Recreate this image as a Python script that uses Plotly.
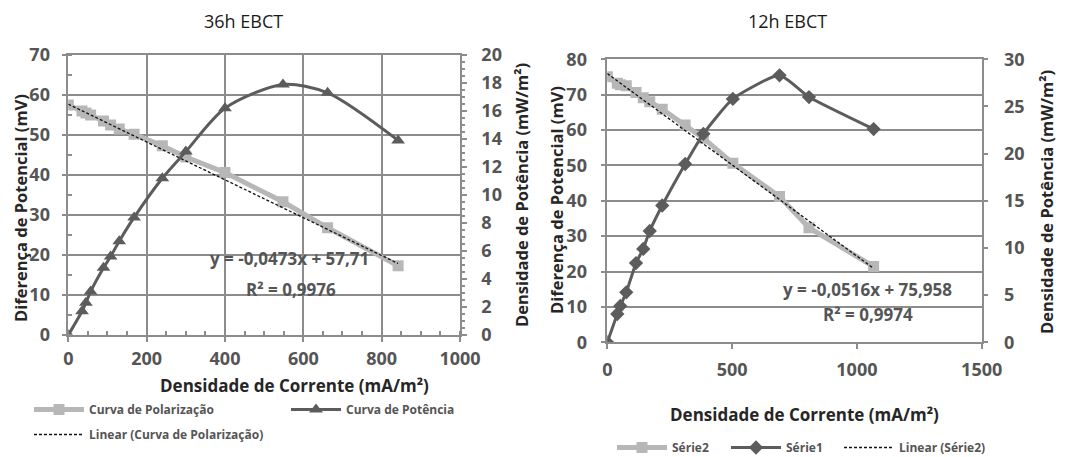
import plotly.graph_objects as go

# ---------------- data: 36h EBCT ----------------
current_36h = [0, 35, 45, 57, 90, 108, 130, 168, 240, 300, 400, 548, 662, 842]
potential_36h = [57.5, 56.0, 55.5, 55.0, 53.5, 52.5, 51.5, 50.2, 47.3, 44.5, 40.6, 33.3, 26.8, 17.3]
power_36h = [0, 1.7, 2.3, 3.1, 4.8, 5.6, 6.7, 8.4, 11.2, 13.1, 16.2, 17.9, 17.3, 13.9]
trend_36h = (-0.0473, 57.71)
r2_36h = "0,9976"

# ---------------- data: 12h EBCT ----------------
current_12h = [0, 40, 52, 76, 115, 144, 170, 220, 312, 385, 503, 690, 808, 1067]
potential_12h = [75.1, 73.2, 72.8, 72.5, 70.6, 69.1, 68.0, 65.9, 61.4, 57.7, 50.6, 41.2, 32.4, 21.4]
power_12h = [0, 3.0, 3.85, 5.3, 8.4, 9.9, 11.8, 14.5, 18.9, 22.1, 25.8, 28.3, 26.0, 22.6]
trend_12h = (-0.0516, 75.958)
r2_12h = "0,9974"

titles = ["36h EBCT", "12h EBCT"]
x_title = "Densidade de Corrente (mA/m²)"
y_title = "Diferença de Potencial (mV)"
y2_title = "Densidade de Potência (mW/m²)"

W, H = 1072, 457
FONT = "Open Sans"
GRID = "#8c8c8c"
LIGHT = "#b7b7b7"
DARK = "#5c5c5c"
TXT = "#555555"
DASH = "3px,2px"

def px(x):
    return x / W

def py(y):
    return 1 - y / H

fig = go.Figure()

# ---- left chart traces ----
fig.add_trace(go.Scatter(
    x=current_36h, y=potential_36h, name="Curva de Polarização",
    mode="lines+markers", line=dict(color=LIGHT, width=5),
    marker=dict(symbol="square", size=11, color=LIGHT),
    xaxis="x", yaxis="y", legend="legend"))
fig.add_trace(go.Scatter(
    x=current_36h, y=power_36h, name="Curva de Potência",
    mode="lines+markers", line=dict(color=DARK, width=3, shape="spline", smoothing=0.8),
    marker=dict(symbol="triangle-up", size=12, color=DARK),
    xaxis="x", yaxis="y2", legend="legend4"))
tx = [current_36h[0], current_36h[-1]]
fig.add_trace(go.Scatter(
    x=tx, y=[trend_36h[0] * v + trend_36h[1] for v in tx],
    name="Linear (Curva de Polarização)", mode="lines",
    line=dict(color="#111111", width=1.3, dash=DASH),
    xaxis="x", yaxis="y", legend="legend3"))

# ---- right chart traces ----
fig.add_trace(go.Scatter(
    x=current_12h, y=potential_12h, name="Série2",
    mode="lines+markers", line=dict(color=LIGHT, width=5),
    marker=dict(symbol="square", size=11, color=LIGHT),
    xaxis="x2", yaxis="y3", legend="legend2"))
fig.add_trace(go.Scatter(
    x=current_12h, y=power_12h, name="Série1",
    mode="lines+markers", line=dict(color=DARK, width=3, shape="spline", smoothing=0.5),
    marker=dict(symbol="diamond", size=11, color=DARK),
    xaxis="x2", yaxis="y4", legend="legend5"))
tx2 = [current_12h[0], current_12h[-1]]
fig.add_trace(go.Scatter(
    x=tx2, y=[trend_12h[0] * v + trend_12h[1] for v in tx2],
    name="Linear (Série2)", mode="lines",
    line=dict(color="#111111", width=1.3, dash=DASH),
    xaxis="x2", yaxis="y3", legend="legend6"))

tickfont = dict(family=FONT, size=18, color=TXT, weight="bold")
common = dict(tickfont=tickfont, zeroline=False, linecolor=GRID, linewidth=1.5,
              gridcolor=GRID, gridwidth=1.5, tickcolor=GRID, tickwidth=1.5, ticklen=5,
              ticks="outside", fixedrange=True)

L = [px(68.3), px(460)]
R = [px(607.3), px(981.7)]
legfont = dict(family=FONT, size=12, color=TXT, weight="bold")

def leg(text_x, text_y):
    return dict(orientation="h", x=px(text_x - 61), y=py(text_y - 14), xanchor="left", yanchor="top",
                itemwidth=50, font=legfont, bgcolor="rgba(0,0,0,0)")

fig.update_layout(
    width=W, height=H, autosize=False,
    margin=dict(l=0, r=0, t=0, b=0, pad=0, autoexpand=False),
    paper_bgcolor="white", plot_bgcolor="white",
    font=dict(family=FONT, color=TXT),
    xaxis=dict(domain=L, range=[0, 1000], dtick=200, showgrid=True, showline=True, mirror=True,
               anchor="y", ticklabelstandoff=2,
               minor=dict(dtick=50, ticks="inside", ticklen=4, tickcolor=GRID, showgrid=False),
               **common),
    yaxis=dict(domain=[py(335), py(55)], range=[0, 70], dtick=10, showgrid=True, showline=True,
               anchor="x", ticklabelstandoff=8,
               minor=dict(dtick=5, ticks="inside", ticklen=4, tickcolor=GRID, showgrid=False),
               **common),
    yaxis2=dict(overlaying="y", side="right", range=[0, 20], dtick=2, showgrid=False, showline=True,
                anchor="x", ticklabelstandoff=11,
                minor=dict(dtick=0.5, ticks="outside", ticklen=3, tickcolor=GRID),
                **common),
    xaxis2=dict(domain=R, range=[0, 1500], dtick=500, showgrid=False, showline=True, mirror=True,
                anchor="y3", ticklabelstandoff=5, **common),
    yaxis3=dict(domain=[py(342.3), py(59.3)], range=[0, 80], dtick=10, showgrid=True, showline=True,
                anchor="x2", ticklabelstandoff=10, **common),
    yaxis4=dict(overlaying="y3", side="right", range=[0, 30], dtick=5, showgrid=False, showline=True,
                anchor="x2", ticklabelstandoff=12, **common),
    legend=leg(90, 409),
    legend4=leg(347, 409),
    legend3=leg(90, 434),
    legend2=leg(673, 447),
    legend5=leg(787, 447),
    legend6=leg(900, 447),
    showlegend=True,
)

ann = []
def add(text, x, y, size, angle=0, bold=True, color="#262626"):
    ann.append(dict(text=text, x=px(x), y=py(y), xref="paper", yref="paper", showarrow=False,
                    textangle=angle, xanchor="center", yanchor="middle",
                    font=dict(family=FONT, size=size, color=color, weight="bold" if bold else "normal")))

add(titles[0], 243, 21, 18, bold=False, color="#1a1a1a")
add(titles[1], 787, 21, 18, bold=False, color="#1a1a1a")
add(x_title, 294, 385, 17)
add(x_title, 804, 414, 17)
add(y_title, 20, 208, 16.5, angle=-90)
add(y2_title, 521, 195, 16.5, angle=-90)
add(y_title, 556, 200, 16.5, angle=-90)
add(y2_title, 1046, 202, 16.5, angle=-90)
add(f"y = {trend_36h[0]:.4f}x + {trend_36h[1]:.2f}".replace(".", ","), 289, 258, 17, color=TXT)
add(f"R² = {r2_36h}", 291, 289, 17, color=TXT)
add(f"y = {trend_12h[0]:.4f}x + {trend_12h[1]:.3f}".replace(".", ","), 867, 289, 17, color=TXT)
add(f"R² = {r2_12h}", 868, 314, 17, color=TXT)
fig.update_layout(annotations=ann)

fig.write_html("out.html")
